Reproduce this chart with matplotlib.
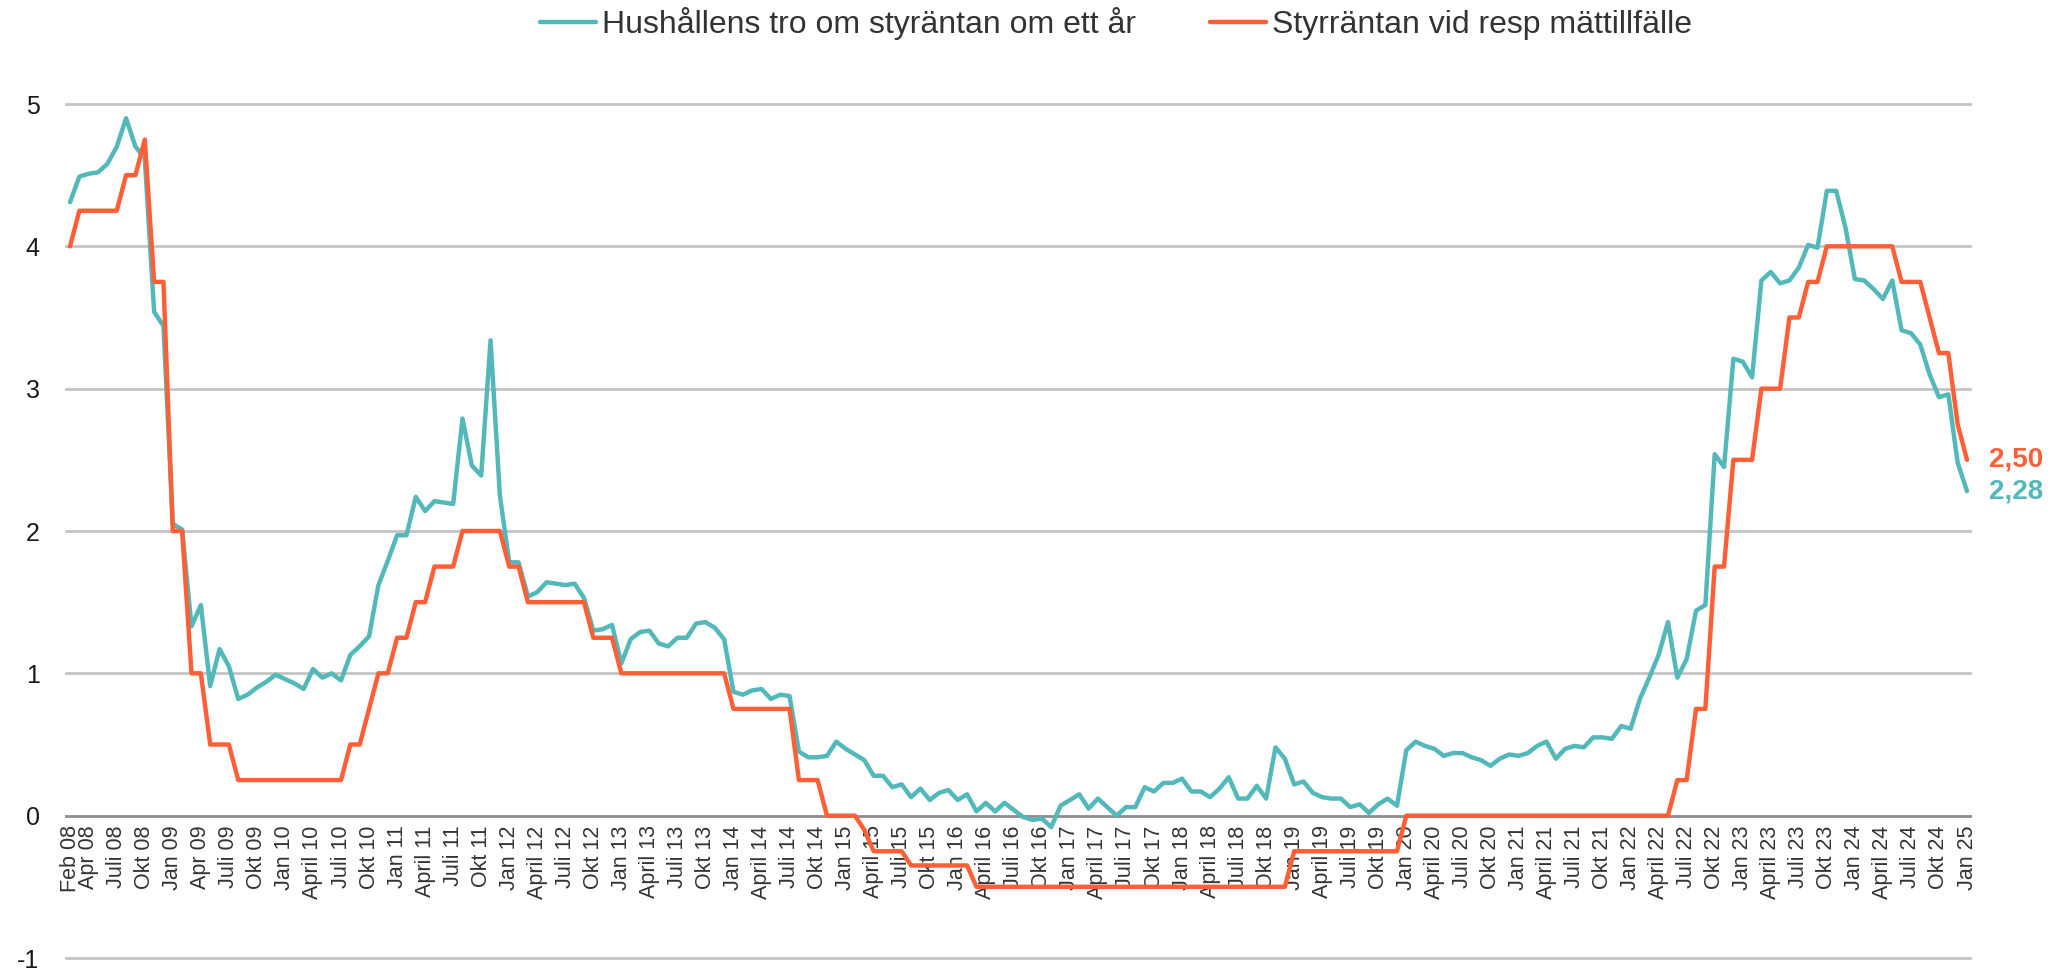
import matplotlib.pyplot as plt

plt.rcParams['font.family'] = ['Liberation Sans', 'DejaVu Sans']

# Hushållens tro om styrräntan om ett år, månadsvis feb 2008 - jan 2025
hushall = [
    4.31, 4.49, 4.51, 4.52, 4.58, 4.70, 4.90, 4.70, 4.62, 3.54, 3.44,          # 2008 (feb-dec)
    2.05, 2.01, 1.33, 1.48, 0.91, 1.17, 1.05, 0.82, 0.85, 0.90, 0.94, 0.99,    # 2009
    0.96, 0.93, 0.89, 1.03, 0.97, 1.00, 0.95, 1.13, 1.19, 1.26, 1.62, 1.79,    # 2010
    1.97, 1.97, 2.24, 2.14, 2.21, 2.20, 2.19, 2.79, 2.46, 2.39, 3.34, 2.25,    # 2011
    1.78, 1.78, 1.54, 1.57, 1.64, 1.63, 1.62, 1.63, 1.53, 1.30, 1.31, 1.34,    # 2012
    1.07, 1.24, 1.29, 1.30, 1.21, 1.19, 1.25, 1.25, 1.35, 1.36, 1.32, 1.24,    # 2013
    0.87, 0.85, 0.88, 0.89, 0.82, 0.85, 0.84, 0.45, 0.41, 0.41, 0.42, 0.52,    # 2014
    0.47, 0.43, 0.39, 0.28, 0.28, 0.20, 0.22, 0.13, 0.19, 0.11, 0.16, 0.18,    # 2015
    0.11, 0.15, 0.03, 0.09, 0.03, 0.09, 0.04, -0.01, -0.03, -0.02, -0.08, 0.07,  # 2016
    0.11, 0.15, 0.05, 0.12, 0.06, 0.00, 0.06, 0.06, 0.20, 0.17, 0.23, 0.23,    # 2017
    0.26, 0.17, 0.17, 0.13, 0.19, 0.27, 0.12, 0.12, 0.21, 0.12, 0.48, 0.40,    # 2018
    0.22, 0.24, 0.16, 0.13, 0.12, 0.12, 0.06, 0.08, 0.02, 0.08, 0.12, 0.07,    # 2019
    0.46, 0.52, 0.49, 0.47, 0.42, 0.44, 0.44, 0.41, 0.39, 0.35, 0.40, 0.43,    # 2020
    0.42, 0.44, 0.49, 0.52, 0.40, 0.47, 0.49, 0.48, 0.55, 0.55, 0.54, 0.63,    # 2021
    0.61, 0.82, 0.97, 1.13, 1.36, 0.97, 1.10, 1.44, 1.48, 2.54, 2.45, 3.21,    # 2022
    3.19, 3.08, 3.76, 3.82, 3.74, 3.76, 3.85, 4.01, 3.99, 4.39, 4.39, 4.13,    # 2023
    3.77, 3.76, 3.70, 3.63, 3.76, 3.41, 3.39, 3.31, 3.10, 2.94, 2.96, 2.48,    # 2024
    2.28,                                                                      # 2025
]

# Styrräntan vid respektive mättillfälle
styrranta = [
    4.00, 4.25, 4.25, 4.25, 4.25, 4.25, 4.50, 4.50, 4.75, 3.75, 3.75,
    2.00, 2.00, 1.00, 1.00, 0.50, 0.50, 0.50, 0.25, 0.25, 0.25, 0.25, 0.25,
    0.25, 0.25, 0.25, 0.25, 0.25, 0.25, 0.25, 0.50, 0.50, 0.75, 1.00, 1.00,
    1.25, 1.25, 1.50, 1.50, 1.75, 1.75, 1.75, 2.00, 2.00, 2.00, 2.00, 2.00,
    1.75, 1.75, 1.50, 1.50, 1.50, 1.50, 1.50, 1.50, 1.50, 1.25, 1.25, 1.25,
    1.00, 1.00, 1.00, 1.00, 1.00, 1.00, 1.00, 1.00, 1.00, 1.00, 1.00, 1.00,
    0.75, 0.75, 0.75, 0.75, 0.75, 0.75, 0.75, 0.25, 0.25, 0.25, 0.00, 0.00,
    0.00, 0.00, -0.10, -0.25, -0.25, -0.25, -0.25, -0.35, -0.35, -0.35, -0.35, -0.35,
    -0.35, -0.35, -0.50, -0.50, -0.50, -0.50, -0.50, -0.50, -0.50, -0.50, -0.50, -0.50,
    -0.50, -0.50, -0.50, -0.50, -0.50, -0.50, -0.50, -0.50, -0.50, -0.50, -0.50, -0.50,
    -0.50, -0.50, -0.50, -0.50, -0.50, -0.50, -0.50, -0.50, -0.50, -0.50, -0.50, -0.50,
    -0.25, -0.25, -0.25, -0.25, -0.25, -0.25, -0.25, -0.25, -0.25, -0.25, -0.25, -0.25,
    0.00, 0.00, 0.00, 0.00, 0.00, 0.00, 0.00, 0.00, 0.00, 0.00, 0.00, 0.00,
    0.00, 0.00, 0.00, 0.00, 0.00, 0.00, 0.00, 0.00, 0.00, 0.00, 0.00, 0.00,
    0.00, 0.00, 0.00, 0.00, 0.00, 0.25, 0.25, 0.75, 0.75, 1.75, 1.75, 2.50,
    2.50, 2.50, 3.00, 3.00, 3.00, 3.50, 3.50, 3.75, 3.75, 4.00, 4.00, 4.00,
    4.00, 4.00, 4.00, 4.00, 4.00, 3.75, 3.75, 3.75, 3.50, 3.25, 3.25, 2.75,
    2.50,
]

# etiketter på x-axeln: feb 08 och sedan var tredje månad från apr 08
etiketter = [
    'Feb 08', 'Apr 08', 'Juli 08', 'Okt 08',
    'Jan 09', 'Apr 09', 'Juli 09', 'Okt 09',
    'Jan 10', 'April 10', 'Juli 10', 'Okt 10',
    'Jan 11', 'April 11', 'Juli 11', 'Okt 11',
    'Jan 12', 'April 12', 'Juli 12', 'Okt 12',
    'Jan 13', 'April 13', 'Juli 13', 'Okt 13',
    'Jan 14', 'April 14', 'Juli 14', 'Okt 14',
    'Jan 15', 'April 15', 'Juli 15', 'Okt 15',
    'Jan 16', 'April 16', 'Juli 16', 'Okt 16',
    'Jan 17', 'April 17', 'Juli 17', 'Okt 17',
    'Jan 18', 'April 18', 'Juli 18', 'Okt 18',
    'Jan 19', 'April 19', 'Juli 19', 'Okt 19',
    'Jan 20', 'April 20', 'Juli 20', 'Okt 20',
    'Jan 21', 'April 21', 'Juli 21', 'Okt 21',
    'Jan 22', 'April 22', 'Juli 22', 'Okt 22',
    'Jan 23', 'April 23', 'Juli 23', 'Okt 23',
    'Jan 24', 'April 24', 'Juli 24', 'Okt 24',
    'Jan 25',
]

TEAL = '#52B8BA'
ORANGE = '#FF5F36'
TEXT = '#333333'

x = list(range(len(hushall)))
tick_pos = [0] + list(range(2, len(hushall), 3))

W, H = 2064, 969
fig = plt.figure(figsize=(W / 100, H / 100), dpi=100)
left, right, top, bottom = 66, 1970, 104, 958
ax = fig.add_axes([left / W, 1 - bottom / H, (right - left) / W, (bottom - top) / H])

ax.plot(x, hushall, color=TEAL, lw=3.2, solid_joinstyle='round', solid_capstyle='round',
        label='Hushållens tro om styräntan om ett år', zorder=3)
ax.plot(x, styrranta, color=ORANGE, lw=3.2, solid_joinstyle='round', solid_capstyle='round',
        label='Styrräntan vid resp mättillfälle', zorder=4)

ax.set_xlim(-0.43, 203.32)
ax.set_ylim(-1, 5)

# horisontella stödlinjer
for yv in [-1, 1, 2, 3, 4, 5]:
    ax.axhline(yv, color='#C4C4C4', lw=2, zorder=1, clip_on=False)

for s in ['top', 'left', 'right']:
    ax.spines[s].set_visible(False)
ax.spines['bottom'].set_position(('data', 0))
ax.spines['bottom'].set_color('#8C8C8C')
ax.spines['bottom'].set_linewidth(2)
ax.spines['bottom'].set_zorder(2)

ax.set_yticks([-1, 0, 1, 2, 3, 4, 5])
ax.set_yticklabels(['-1', '0', '1', '2', '3', '4', '5'])
ax.tick_params(axis='y', length=0, pad=19, labelsize=18, labelcolor='#1A1A1A')

ax.set_xticks(tick_pos)
ax.set_xticklabels(etiketter, rotation=90)
ax.tick_params(axis='x', length=0, pad=7, labelsize=15.5, labelcolor=TEXT)

# slutvärden till höger om linjerna
ax.annotate(f'{styrranta[-1]:.2f}'.replace('.', ','), xy=(x[-1], styrranta[-1]),
            xytext=(16, 0), textcoords='offset points', color=ORANGE,
            fontsize=20, fontweight='bold', va='center', ha='left', annotation_clip=False)
ax.annotate(f'{hushall[-1]:.2f}'.replace('.', ','), xy=(x[-1], hushall[-1]),
            xytext=(16, 0), textcoords='offset points', color=TEAL,
            fontsize=20, fontweight='bold', va='center', ha='left', annotation_clip=False)

leg = fig.legend(loc='center', bbox_to_anchor=(1116 / W, 1 - 24 / H), ncol=2, frameon=False,
                 fontsize=23, handlelength=1.75, handletextpad=0.2, columnspacing=2.3)
for t in leg.get_texts():
    t.set_color(TEXT)

fig.savefig('out.png', dpi=100)
